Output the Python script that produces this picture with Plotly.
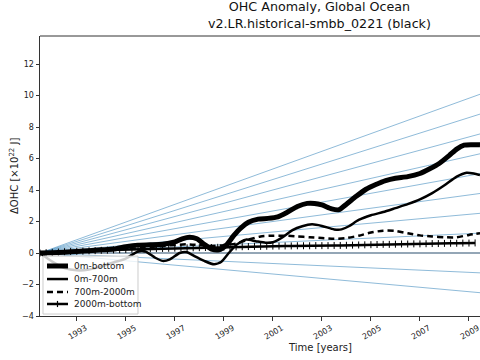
import plotly.graph_objects as go

# ---------------- data ----------------
t_total = [1991.5, 1992.0, 1992.5, 1993.0, 1993.5, 1994.0, 1994.5, 1995.0, 1995.5, 1996.0,
           1996.5, 1997.0, 1997.3, 1997.6, 1997.9, 1998.2, 1998.5, 1998.8, 1999.1, 1999.4,
           1999.7, 2000.0, 2000.4, 2000.8, 2001.2, 2001.6, 2002.0, 2002.4, 2002.7, 2003.0,
           2003.4, 2003.7, 2004.0, 2004.4, 2004.8, 2005.2, 2005.6, 2006.0, 2006.5, 2007.0,
           2007.4, 2007.8, 2008.2, 2008.5, 2008.8, 2009.1, 2009.45]
ohc_total = [0.0, 0.02, 0.05, 0.1, 0.15, 0.2, 0.25, 0.4, 0.5, 0.52,
             0.55, 0.7, 0.9, 1.0, 0.9, 0.55, 0.25, 0.2, 0.5, 1.1,
             1.6, 1.95, 2.15, 2.2, 2.3, 2.6, 2.95, 3.15, 3.15, 3.05,
             2.8, 2.75, 3.1, 3.6, 4.05, 4.35, 4.6, 4.75, 4.85, 5.05,
             5.35, 5.7, 6.2, 6.6, 6.85, 6.88, 6.87]

t_upper = [1991.5, 1992.0, 1992.5, 1993.0, 1993.5, 1994.0, 1994.5, 1995.0, 1995.5, 1995.8,
           1996.2, 1996.5, 1996.8, 1997.2, 1997.5, 1997.8, 1998.2, 1998.6, 1998.9, 1999.2,
           1999.5, 1999.9, 2000.3, 2000.7, 2001.0, 2001.4, 2001.8, 2002.2, 2002.6, 2003.0,
           2003.5, 2003.8, 2004.1, 2004.5, 2005.0, 2005.5, 2006.0, 2006.5, 2007.0, 2007.5,
           2008.0, 2008.5, 2008.9, 2009.2, 2009.45]
ohc_upper = [0.0, -0.55, -0.95, -1.1, -1.05, -0.85, -0.6, -0.35, 0.1, 0.1,
             -0.3, -0.5, -0.4, 0.0, 0.05, -0.2, -0.5, -0.72, -0.55, 0.0,
             0.5, 0.85, 0.75, 0.65, 0.68, 1.0, 1.45, 1.7, 1.82, 1.72,
             1.5, 1.5, 1.7, 2.1, 2.4, 2.6, 2.85, 3.1, 3.4, 3.8,
             4.3, 4.85, 5.1, 5.05, 4.95]

t_mid = [1991.5, 1992.5, 1993.5, 1994.5, 1995.5, 1996.5, 1997.5, 1998.5, 1999.0, 1999.5,
         2000.0, 2000.5, 2001.0, 2001.5, 2002.0, 2002.5, 2003.0, 2003.5, 2004.0, 2004.5,
         2005.0, 2005.5, 2006.0, 2006.5, 2007.0, 2007.5, 2008.0, 2008.5, 2009.0, 2009.45]
ohc_mid = [0.0, 0.05, 0.1, 0.2, 0.3, 0.45, 0.55, 0.45, 0.5, 0.6,
           0.85, 1.05, 1.1, 1.1, 1.05, 1.0, 0.95, 0.9, 0.95, 1.1,
           1.3, 1.42, 1.4, 1.25, 1.12, 1.05, 1.0, 1.0, 1.15, 1.25]

t_deep_start = 1991.5
t_deep_step = 0.25
ohc_deep = [0.0, 0.02, 0.04, 0.06, 0.08, 0.10,
            0.11, 0.12, 0.14, 0.15, 0.17, 0.18, 0.20, 0.21,
            0.22, 0.24, 0.25, 0.26, 0.27, 0.28, 0.29, 0.30,
            0.31, 0.32, 0.33, 0.33, 0.34, 0.35, 0.35, 0.36,
            0.37, 0.38, 0.39, 0.40, 0.41, 0.42, 0.42, 0.43,
            0.44, 0.44, 0.45, 0.45, 0.46, 0.46, 0.46, 0.47,
            0.47, 0.47, 0.48, 0.48, 0.49, 0.50, 0.51, 0.52,
            0.53, 0.54, 0.55, 0.55, 0.56, 0.57, 0.57, 0.58,
            0.58, 0.59, 0.60, 0.60, 0.61, 0.62, 0.62, 0.63,
            0.63, 0.64]
t_deep = [t_deep_start + t_deep_step * i for i in range(len(ohc_deep))]

# reference fan of constant-rate lines (multiples of a base rate, 1e22 J / yr)
ref_multiples = [-2, -1, 0, 1, 2, 3, 4, 5, 6, 7, 8]
ref_base_rate = 0.0702
ref_t0 = 1991.5
ref_t1 = 2014.4

legend_labels = ["0m-bottom", "0m-700m", "700m-2000m", "2000m-bottom"]

x_ticks = [1993, 1995, 1997, 1999, 2001, 2003, 2005, 2007, 2009]
y_ticks = [-4, -2, 0, 2, 4, 6, 8, 10, 12]
x_range = [1991.5, 2009.45]
y_range = [-4, 13.78]

FONT = "DejaVu Sans"
INK = "#222222"

fig = go.Figure()

for k in ref_multiples:
    fig.add_trace(go.Scatter(
        x=[ref_t0, ref_t1], y=[0, k * ref_base_rate * (ref_t1 - ref_t0)],
        mode="lines", line=dict(color="rgba(31,119,180,0.5)", width=1),
        showlegend=False, hoverinfo="skip"))

fig.add_trace(go.Scatter(x=[ref_t0, ref_t1], y=[0, 0], mode="lines",
                         line=dict(color="rgba(80,95,110,0.85)", width=1.2),
                         showlegend=False, hoverinfo="skip"))

styles = [dict(width=5), dict(width=2.5), dict(width=2.5, dash="6px,4px"), dict(width=2.5)]

fig.add_trace(go.Scatter(x=t_total, y=ohc_total, mode="lines", name=legend_labels[0],
                         showlegend=False,
                         line=dict(color="black", shape="spline", smoothing=0.6, **styles[0])))
fig.add_trace(go.Scatter(x=t_upper, y=ohc_upper, mode="lines", name=legend_labels[1],
                         showlegend=False,
                         line=dict(color="black", shape="spline", smoothing=0.6, **styles[1])))
fig.add_trace(go.Scatter(x=t_mid, y=ohc_mid, mode="lines", name=legend_labels[2],
                         showlegend=False,
                         line=dict(color="black", shape="spline", smoothing=0.6, **styles[2])))
fig.add_trace(go.Scatter(x=t_deep, y=ohc_deep, mode="lines+markers", name=legend_labels[3],
                         showlegend=False,
                         line=dict(color="black", **styles[3]),
                         marker=dict(symbol="line-ns", size=5, color="black",
                                     line=dict(color="black", width=1))))

# ---- matplotlib-like legend box (lower left) drawn in paper coordinates ----
shapes = [
    dict(type="line", xref="paper", yref="paper", x0=0, x1=1, y0=1, y1=1,
         line=dict(color="#333333", width=1)),
    dict(type="rect", xref="paper", yref="paper", x0=0.0068, x1=0.2227, y0=0.007, y1=0.214,
         fillcolor="rgba(255,255,255,0.8)", line=dict(color="#cccccc", width=1)),
]
annotations = []
row_y = [0.1786, 0.132, 0.0857, 0.0429]
hx0, hx1, tx = 0.0159, 0.0636, 0.0727
for lab, st, ry in zip(legend_labels, styles, row_y):
    shapes.append(dict(type="line", xref="paper", yref="paper", x0=hx0, x1=hx1, y0=ry, y1=ry,
                       line=dict(color="black", width=st["width"], dash=st.get("dash", "solid"))))
    annotations.append(dict(text=lab, xref="paper", yref="paper", x=tx, y=ry, xanchor="left",
                            yanchor="middle", showarrow=False,
                            font=dict(family=FONT, size=9, color=INK)))
# '+' marker on the 2000m-bottom legend handle
shapes.append(dict(type="line", xref="paper", yref="paper", x0=(hx0 + hx1) / 2, x1=(hx0 + hx1) / 2,
                   y0=row_y[3] - 0.011, y1=row_y[3] + 0.011, line=dict(color="black", width=1.2)))

annotations += [
    dict(text="OHC Anomaly, Global Ocean<br>v2.LR.historical-smbb_0221 (black)",
         xref="paper", yref="paper", x=0.636, y=1, yshift=3, xanchor="center",
         yanchor="bottom", showarrow=False, font=dict(family=FONT, size=12.7, color="#111111")),
    dict(text="Time [years]", xref="paper", yref="paper", x=0.636, y=0, yshift=-24,
         xanchor="center", yanchor="top", showarrow=False,
         font=dict(family=FONT, size=10, color=INK)),
    dict(text="ΔOHC [×10<sup>22</sup> J]", xref="paper", yref="paper", x=0, xshift=-26,
         y=0.5, xanchor="center", yanchor="middle", textangle=-90, showarrow=False,
         font=dict(family=FONT, size=10, color=INK)),
]

fig.update_layout(
    width=480, height=360,
    margin=dict(l=40, r=0, t=36, b=44, autoexpand=False),
    paper_bgcolor="white", plot_bgcolor="white",
    font=dict(family=FONT, color=INK, size=8),
    showlegend=False,
    xaxis=dict(range=x_range, tickmode="array", tickvals=x_ticks,
               ticktext=[str(v) for v in x_ticks], tickangle=-30, automargin=False,
               ticklabelshift=9, ticklabeloverflow="allow",
               showgrid=False, zeroline=False, showline=True, linecolor="#333333",
               linewidth=1, ticks="outside", ticklen=3.5, tickcolor="#333333",
               tickfont=dict(size=8)),
    yaxis=dict(range=y_range, tickmode="array", tickvals=y_ticks, automargin=False,
               showgrid=False, zeroline=False, showline=True, linecolor="#333333",
               linewidth=1, ticks="outside", ticklen=3.5, tickcolor="#333333",
               tickfont=dict(size=8)),
    shapes=shapes,
    annotations=annotations,
)

fig.write_html("out.html", config={"displayModeBar": False},
               post_script="document.body.style.margin='0';document.body.style.padding='0';")
